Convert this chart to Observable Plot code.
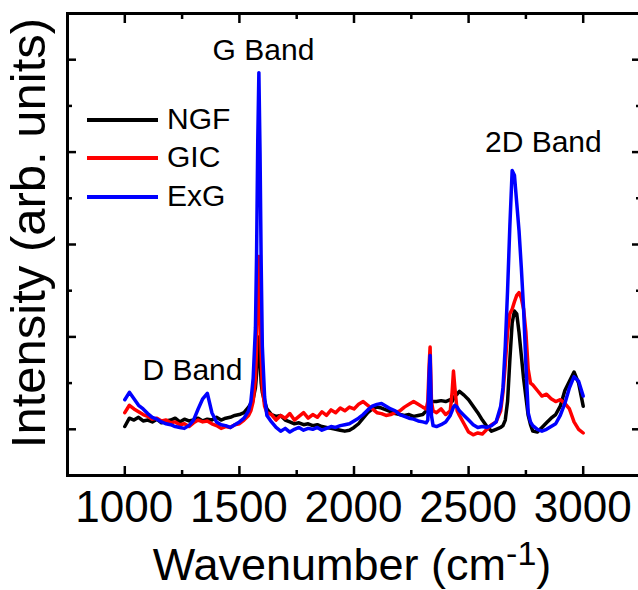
<!DOCTYPE html>
<html><head><meta charset="utf-8">
<script src="https://cdn.jsdelivr.net/npm/d3@7"></script>
<script src="https://cdn.jsdelivr.net/npm/@observablehq/plot@0.6"></script>
<style>body{margin:0;background:#fff} #chart svg{display:block}</style>
</head><body><div id="chart"></div>
<script>
// Raman shift (cm^-1) sample positions
const wavenumber = [
  1000,1020,1040,1060,1080,1100,1120,1140,1160,1180,1200,1220,1240,1260,1280,1300,1320,1340,1360,1380,1400,1420,1440,1460,1480,1500,1520,1540,
  1550,1560,1570,1575,1580,1585,1590,1595,1600,1610,1620,
  1640,1660,1680,1700,1720,1740,1760,1780,1800,1820,1840,1860,1880,1900,1920,1940,1960,1980,2000,2020,2040,2060,2080,2100,2120,2140,2160,2180,2200,2220,2240,2260,2280,2300,
  2315,2322,2328,2332,2338,2345,
  2360,2380,2400,2420,2428,2434,2440,2450,
  2460,2480,2500,2520,2540,2560,2580,2600,2620,2640,
  2650,2660,2670,2680,2690,2700,2710,2720,2730,2740,2750,2760,2770,
  2780,2800,2820,2840,2860,2880,2900,2920,2940,2960,2980,3000
];
const ngf = [
  0.03,0.12,0.10,0.13,0.09,0.10,0.08,0.11,0.07,0.09,0.10,0.12,0.08,0.11,0.09,0.10,0.12,0.09,0.11,0.10,0.13,0.10,0.12,0.13,0.15,0.16,0.18,0.24,
  0.28,0.33,0.45,0.60,0.85,1.00,0.75,0.50,0.40,0.30,0.22,
  0.16,0.14,0.15,0.10,0.08,0.06,0.07,0.05,0.06,0.04,0.05,0.03,0.02,0.01,0.00,-0.01,-0.02,-0.01,0.02,0.06,0.12,0.18,0.22,0.24,0.23,0.21,0.19,0.17,0.16,0.15,0.16,0.14,0.15,0.16,
  0.20,0.24,0.28,0.30,0.30,0.30,
  0.30,0.31,0.30,0.32,0.30,0.33,0.36,0.38,
  0.41,0.37,0.32,0.25,0.18,0.10,0.03,-0.02,0.00,0.02,
  0.04,0.10,0.30,0.75,1.15,1.28,1.25,1.05,0.80,0.55,0.35,0.15,0.05,
  -0.02,-0.03,0.02,0.07,0.12,0.16,0.25,0.42,0.52,0.62,0.50,0.25
];
const gic = [
  0.18,0.26,0.22,0.19,0.16,0.14,0.11,0.12,0.09,0.10,0.07,0.08,0.05,0.06,0.03,0.07,0.10,0.08,0.09,0.06,0.04,0.01,0.03,0.02,0.05,0.06,0.10,0.15,
  0.20,0.30,0.55,0.90,1.50,1.87,1.40,0.80,0.45,0.25,0.18,
  0.16,0.10,0.15,0.12,0.17,0.10,0.14,0.18,0.12,0.16,0.13,0.19,0.15,0.21,0.18,0.23,0.20,0.24,0.22,0.27,0.30,0.26,0.22,0.18,0.17,0.15,0.16,0.18,0.20,0.24,0.27,0.30,0.27,0.24,
  0.22,0.30,0.70,0.89,0.30,0.20,
  0.18,0.22,0.16,0.20,0.40,0.63,0.45,0.20,
  0.15,0.06,-0.03,-0.06,-0.04,-0.05,0.00,0.05,0.08,0.20,
  0.40,0.70,1.05,1.25,1.30,1.38,1.45,1.48,1.42,1.30,1.05,0.65,0.50,
  0.48,0.42,0.36,0.38,0.33,0.30,0.32,0.28,0.22,0.08,0.00,-0.04
];
const exg = [
  0.32,0.40,0.33,0.26,0.22,0.17,0.13,0.11,0.08,0.06,0.05,0.03,0.02,0.01,0.04,0.10,0.22,0.33,0.39,0.18,0.08,0.05,0.04,0.02,0.05,0.08,0.12,0.20,
  0.30,0.55,1.10,1.90,3.10,3.86,3.00,1.80,0.90,0.35,0.15,
  0.08,0.02,-0.02,0.01,-0.03,0.00,0.02,-0.01,0.01,0.00,0.02,-0.01,0.01,0.03,0.02,0.04,0.05,0.06,0.09,0.12,0.16,0.21,0.25,0.27,0.28,0.25,0.22,0.20,0.16,0.14,0.12,0.11,0.09,0.08,
  0.07,0.10,0.60,0.80,0.15,0.04,
  0.03,0.05,0.08,0.15,0.20,0.24,0.26,0.24,
  0.20,0.15,0.10,0.05,0.02,0.03,0.02,0.04,0.08,0.25,
  0.45,0.90,1.50,2.20,2.80,2.75,2.45,2.15,1.75,1.30,0.70,0.18,0.08,
  0.04,0.00,-0.02,0.00,0.03,0.06,0.15,0.28,0.45,0.57,0.52,0.36
];
const seriesNames = ["NGF", "GIC", "ExG"];
const seriesColors = ["#000000", "#ff0000", "#0000ff"];
const xMajorTicks = [1000, 1500, 2000, 2500, 3000];
const xMinorTicks = [750, 1250, 1750, 2250, 2750, 3250];
const yMajorTicks = [0, 1, 2, 3, 4];
const yMinorTicks = [0.5, 1.5, 2.5, 3.5];
const bandLabels = ["D Band", "G Band", "2D Band"];
const bandX = [1295, 1605, 2826];
const bandY = [0.64, 4.1, 3.11];

const seriesValues = [ngf, gic, exg];
const rows = [];
seriesNames.forEach((name, k) => {
  wavenumber.forEach((w, i) => rows.push({w, v: seriesValues[k][i], s: name}));
});

const tickOpts = {strokeWidth: 2.5, tickFormat: () => "", label: null};
const plot = Plot.plot({
  width: 638, height: 590,
  marginLeft: 67, marginRight: -2, marginTop: 13, marginBottom: 115,
  x: {domain: [750, 3250]},
  y: {domain: [-0.5, 4.5]},
  color: {domain: seriesNames, range: seriesColors},
  style: {fontFamily: "'Liberation Sans', Arial, sans-serif", fontSize: "30px", color: "#000", background: "#fff"},
  marks: [
    Plot.line(rows, {x: "w", y: "v", z: "s", stroke: "s", strokeWidth: 3.5, strokeLinejoin: "round"}),
    Plot.axisX({anchor: "bottom", ticks: xMajorTicks, tickSize: -9, ...tickOpts}),
    Plot.axisX({anchor: "bottom", ticks: xMinorTicks, tickSize: -5, ...tickOpts}),
    Plot.axisX({anchor: "top", ticks: xMajorTicks, tickSize: -9, ...tickOpts}),
    Plot.axisX({anchor: "top", ticks: xMinorTicks, tickSize: -5, ...tickOpts}),
    Plot.axisY({anchor: "left", ticks: yMajorTicks, tickSize: -9, ...tickOpts}),
    Plot.axisY({anchor: "left", ticks: yMinorTicks, tickSize: -5, ...tickOpts}),
    Plot.axisY({anchor: "right", ticks: yMajorTicks, tickSize: -9, ...tickOpts}),
    Plot.axisY({anchor: "right", ticks: yMinorTicks, tickSize: -5, ...tickOpts}),
    Plot.text(bandLabels, {x: bandX, y: bandY, text: bandLabels, fontSize: 30}),
    Plot.frame({strokeWidth: 3})
  ]
});
document.getElementById("chart").append(plot);

const svg = d3.select(plot);
const xs = plot.scale("x");
// x tick labels
const tl = svg.append("g").attr("text-anchor", "middle").style("font-size", "44px");
xMajorTicks.forEach(t => {
  tl.append("text").attr("x", xs.apply(t)).attr("y", 522).attr("fill", "#000").text(String(t));
});
// x axis title with superscript
const xt = svg.append("text").attr("x", 352).attr("y", 580).attr("text-anchor", "middle")
  .style("font-size", "45px").attr("fill", "#000");
xt.append("tspan").text("Wavenumber (cm");
xt.append("tspan").style("font-size", "34px").attr("dy", -15).text("-1");
xt.append("tspan").attr("dy", 15).text(")");
// y axis title
svg.append("text").attr("transform", "translate(45,233) rotate(-90)").attr("text-anchor", "middle")
  .style("font-size", "49px").attr("fill", "#000").text("Intensity (arb. units)");
// legend
const legendY = [120, 158, 197];
const lg = svg.append("g");
seriesNames.forEach((name, i) => {
  lg.append("line").attr("x1", 87).attr("x2", 158).attr("y1", legendY[i]).attr("y2", legendY[i])
    .attr("stroke", seriesColors[i]).attr("stroke-width", 4);
  lg.append("text").attr("x", 167).attr("y", legendY[i] - 2).attr("dy", "0.35em").attr("text-anchor", "start")
    .style("font-size", "30px").attr("fill", "#000").text(name);
});
</script>
</body></html>
